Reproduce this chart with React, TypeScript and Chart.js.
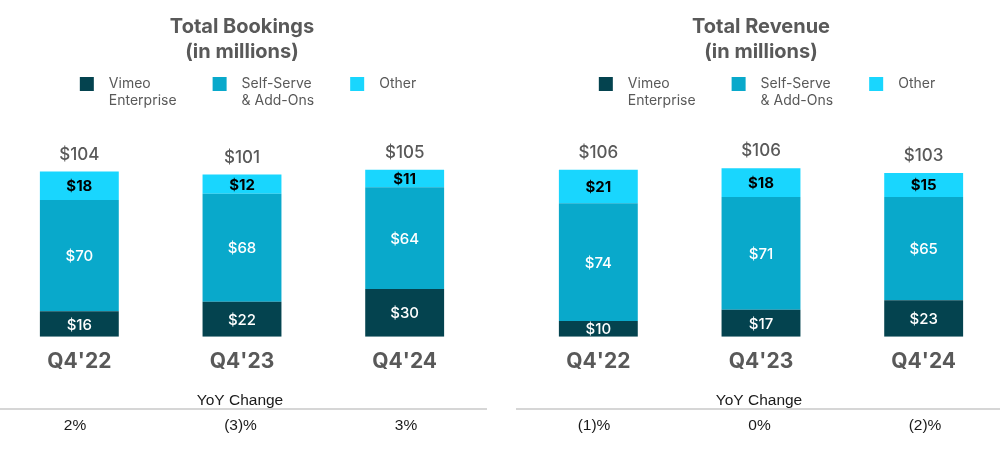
import React, { useEffect, useRef } from "react";
import { Chart, registerables } from "chart.js";

Chart.register(...registerables);

const quarters = ["Q4'22", "Q4'23", "Q4'24"];
const seriesNames = [["Vimeo", "Enterprise"], ["Self-Serve", "& Add-Ons"], ["Other"]];
const seriesColors = ["#04434F", "#09A9CB", "#19D6FE"];

const bookingsEnterprise = [16, 22, 30];
const bookingsSelfServe = [70, 68, 64];
const bookingsOther = [18, 12, 11];
const bookingsTotals = ["$104", "$101", "$105"];
const bookingsYoY = ["2%", "(3)%", "3%"];

const revenueEnterprise = [10, 17, 23];
const revenueSelfServe = [74, 71, 65];
const revenueOther = [21, 18, 15];
const revenueTotals = ["$106", "$106", "$103"];
const revenueYoY = ["(1)%", "0%", "(2)%"];

const GRAY = "#595959";
const SANS = "Inter, 'Noto Sans', sans-serif";
const ARIAL = "'Liberation Sans', Arial, sans-serif";

type PanelProps = {
  title: string[];
  series: number[][];
  totals: string[];
  yoy: string[];
};

const legendPlugin = {
  id: "multiLegend",
  afterDraw(chart: any) {
    const ctx = chart.ctx;
    const ds = chart.data.datasets;
    ctx.save();
    ctx.font = `14px ${SANS}`;
    const box = 14;
    const gap = 15;
    const spacing = 36;
    const widths = ds.map((d: any) => {
      const lines: string[] = d.legendLines;
      const w = Math.max(...lines.map((l) => ctx.measureText(l).width));
      return box + gap + w;
    });
    const total = widths.reduce((a: number, b: number) => a + b, 0) + spacing * (ds.length - 1);
    let x = chart.width / 2 - total / 2 + 6;
    const top = 77;
    ds.forEach((d: any, i: number) => {
      ctx.fillStyle = d.backgroundColor;
      ctx.fillRect(x, top, box, box);
      ctx.fillStyle = GRAY;
      ctx.textAlign = "left";
      ctx.textBaseline = "middle";
      d.legendLines.forEach((line: string, j: number) => {
        ctx.fillText(line, x + box + gap, top + 7 + j * 17);
      });
      x += widths[i] + spacing;
    });
    ctx.restore();
  },
};

const labelsPlugin = {
  id: "barLabels",
  afterDatasetsDraw(chart: any) {
    const ctx = chart.ctx;
    const y = chart.scales.y;
    const n = chart.data.labels.length;
    ctx.save();
    ctx.textAlign = "center";
    ctx.textBaseline = "middle";
    chart.data.datasets.forEach((d: any, di: number) => {
      const meta = chart.getDatasetMeta(di);
      meta.data.forEach((bar: any, i: number) => {
        const v = d.data[i];
        const cy = (bar.y + bar.base) / 2;
        const isTop = di === chart.data.datasets.length - 1;
        ctx.font = isTop ? `bold 15px ${SANS}` : `500 15px ${SANS}`;
        ctx.fillStyle = isTop ? "#000000" : "#FFFFFF";
        ctx.fillText("$" + v, bar.x, cy + 1);
      });
    });
    const totals: string[] = chart.options.plugins.barLabels.totals;
    ctx.font = `500 17px ${SANS}`;
    ctx.fillStyle = GRAY;
    for (let i = 0; i < n; i++) {
      let sum = 0;
      chart.data.datasets.forEach((d: any) => (sum += d.data[i]));
      const px = chart.getDatasetMeta(0).data[i].x;
      ctx.fillText(totals[i], px, y.getPixelForValue(sum) - 17);
    }
    ctx.restore();
  },
};

const yoyPlugin = {
  id: "yoyRow",
  afterDraw(chart: any) {
    const ctx = chart.ctx;
    const yoy: string[] = chart.options.plugins.yoyRow.values;
    const area = chart.chartArea;
    const mid = (area.left + area.right) / 2;
    ctx.save();
    ctx.fillStyle = "#1a1a1a";
    ctx.font = `15.5px ${ARIAL}`;
    ctx.textAlign = "center";
    ctx.textBaseline = "middle";
    ctx.fillText("YoY Change", mid - 2, 401);
    ctx.strokeStyle = "#C8C8C8";
    ctx.lineWidth = 1.5;
    ctx.beginPath();
    ctx.moveTo(0, 409);
    ctx.lineTo(chart.width, 409);
    ctx.stroke();
    const metas = chart.getDatasetMeta(0).data;
    const center = metas[1].x - 1.5;
    yoy.forEach((t, i) => {
      ctx.fillText(t, center + (i - 1) * 165.5, 425.5);
    });
    ctx.restore();
  },
};

function Panel({ title, series, totals, yoy }: PanelProps) {
  const ref = useRef<HTMLCanvasElement>(null);
  useEffect(() => {
    if (!ref.current) return;
    const chart = new Chart(ref.current, {
      type: "bar",
      data: {
        labels: quarters,
        datasets: series.map((s, i) => ({
          label: seriesNames[i].join(" "),
          legendLines: seriesNames[i],
          data: s,
          backgroundColor: seriesColors[i],
          borderWidth: 0,
          categoryPercentage: 1,
          barPercentage: 0.485,
        })) as any,
      },
      options: {
        animation: false,
        responsive: true,
        maintainAspectRatio: false,
        layout: { padding: { left: 1, right: 1, top: 0, bottom: 85 } },
        plugins: {
          legend: { display: false },
          tooltip: { enabled: false },
          title: {
            display: true,
            text: title,
            color: GRAY,
            font: { family: SANS, size: 20, weight: "bold", lineHeight: 1.25 },
            padding: { top: 14, bottom: 82 },
          },
          barLabels: { totals },
          yoyRow: { values: yoy },
        } as any,
        scales: {
          x: {
            stacked: true,
            grid: { display: false, drawTicks: false },
            border: { display: false },
            ticks: {
              color: GRAY,
              font: { family: SANS, size: 21, weight: "bold" },
              padding: 12,
            },
          },
          y: {
            stacked: true,
            display: false,
            min: 0,
            max: 120,
          },
        },
      },
      plugins: [legendPlugin, labelsPlugin, yoyPlugin],
    });
    return () => chart.destroy();
  }, []);
  return (
    <div style={{ width: 490, height: 471, position: "absolute", top: 0 }}>
      <canvas ref={ref} />
    </div>
  );
}

export default function App() {
  useEffect(() => {
    document.body.style.margin = "0";
  }, []);
  return (
    <div style={{ position: "relative", width: 1000, height: 471, overflow: "hidden", background: "#fff" }}>
      <div style={{ position: "absolute", left: -3, top: 0, width: 490, height: 471 }}>
        <Panel
          title={["Total Bookings", "(in millions)"]}
          series={[bookingsEnterprise, bookingsSelfServe, bookingsOther]}
          totals={bookingsTotals}
          yoy={bookingsYoY}
        />
      </div>
      <div style={{ position: "absolute", left: 516, top: 0, width: 490, height: 471 }}>
        <Panel
          title={["Total Revenue", "(in millions)"]}
          series={[revenueEnterprise, revenueSelfServe, revenueOther]}
          totals={revenueTotals}
          yoy={revenueYoY}
        />
      </div>
    </div>
  );
}
